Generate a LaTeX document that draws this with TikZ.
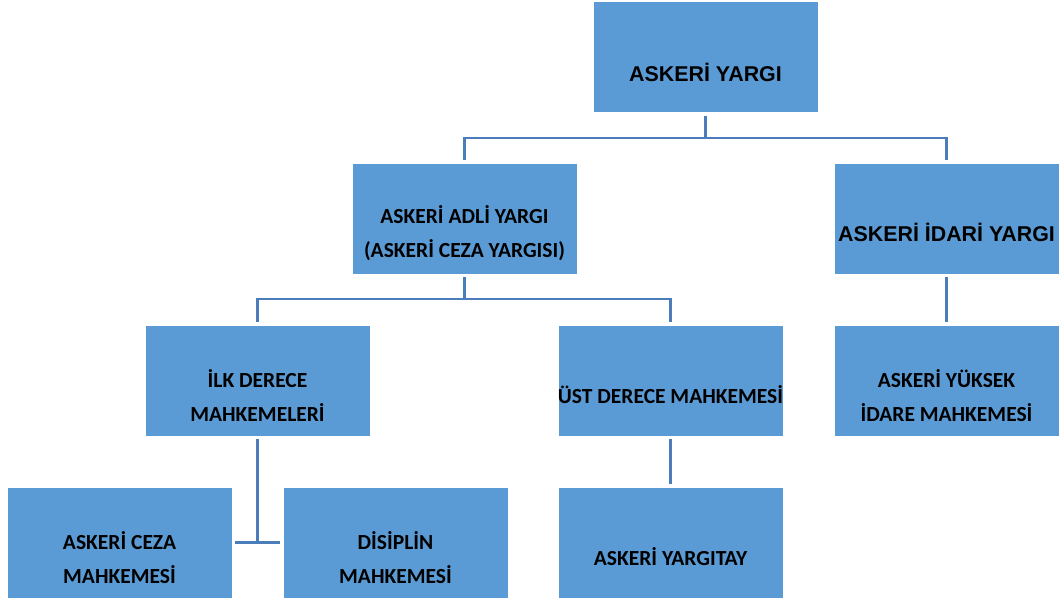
\documentclass[tikz,border=0pt]{standalone}
\usepackage{fontspec}
\setmainfont{Carlito}
\newfontfamily\arialfont{Liberation Sans}
\definecolor{boxblue}{HTML}{5B9BD5}
\definecolor{lineblue}{HTML}{4A7DBA}
\begin{document}
\begin{tikzpicture}[x=1pt,y=-1pt,
  box/.style={rectangle,fill=boxblue,draw=white,line width=0.6pt,minimum width=225pt,minimum height=111pt,inner sep=0pt},
  txt/.style={align=center,font=\fontsize{21.5}{34}\selectfont\bfseries,inner sep=0pt,text=black},
  atxt/.style={align=center,font=\arialfont\fontsize{21.4}{34}\selectfont\bfseries,inner sep=0pt,text=black},
  conn/.style={draw=lineblue,line width=2.3pt,line join=miter}]
\useasboundingbox (0,0) rectangle (1061,601);
% boxes
\node[box] (b1) at (705.5,57) {};
\node[box] (b2) at (464.5,218.5) {};
\node[box] (b3) at (946.5,218.5) {};
\node[box] (b4) at (257.5,380.5) {};
\node[box] (b5) at (670.5,380.5) {};
\node[box] (b6) at (946.5,380.5) {};
\node[box] (b7) at (119.5,542.5) {};
\node[box] (b8) at (395.5,542.5) {};
\node[box] (b9) at (670.5,542.5) {};
% texts
\node[atxt] (t1) at ([yshift=-15pt]b1.center) {ASKERİ YARGI};
\node[txt] (t2) at ([yshift=-15pt]b2.center) {ASKERİ ADLİ YARGI\\(ASKERİ CEZA YARGISI)};
\node[atxt] (t3) at ([yshift=-14pt]b3.center) {ASKERİ İDARİ YARGI};
\node[txt] (t4) at ([yshift=-15pt]b4.center) {İLK DERECE\\MAHKEMELERİ};
\node[txt] (t5) at ([yshift=-14pt]b5.center) {ÜST DERECE MAHKEMESİ};
\node[txt] (t6) at ([yshift=-15pt]b6.center) {ASKERİ YÜKSEK\\İDARE MAHKEMESİ};
\node[txt] (t7) at ([yshift=-15pt]b7.center) {ASKERİ CEZA\\MAHKEMESİ};
\node[txt] (t8) at ([yshift=-15pt]b8.center) {DİSİPLİN\\MAHKEMESİ};
\node[txt] (t9) at ([yshift=-14pt]b9.center) {ASKERİ YARGITAY};
% junctions
\coordinate (j1) at (705.5,138);
\coordinate (j2) at (464.5,299);
\coordinate (j4) at (b4.south |- b7.east);
% connectors
\draw[conn,shorten <=3pt] (b1.south) -- (j1);
\draw[conn,shorten >=3pt] (j1) -| (b2.north);
\draw[conn,shorten >=3pt] (j1) -| (b3.north);
\draw[conn,shorten <=3pt] (b2.south) -- (j2);
\draw[conn,shorten >=3pt] (j2) -| (b4.north);
\draw[conn,shorten >=3pt] (j2) -| (b5.north);
\draw[conn,shorten <=3pt,shorten >=3pt] (b3.south) -- (b6.north);
\draw[conn,shorten <=3pt,shorten >=3pt] (b5.south) -- (b9.north);
\draw[conn,shorten <=3pt,shorten >=3pt] (b7.east) -- (b8.west);
\draw[conn,shorten <=3pt] (b4.south) -- (j4);
\end{tikzpicture}
\end{document}
